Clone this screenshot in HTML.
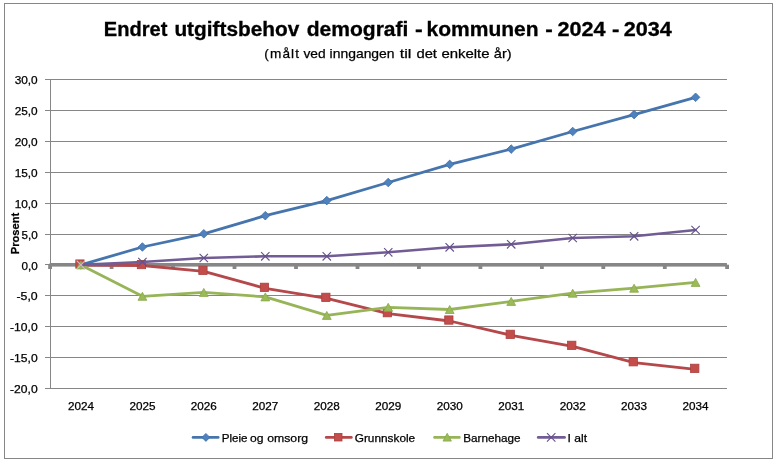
<!DOCTYPE html>
<html lang="no"><head><meta charset="utf-8"><title>Endret utgiftsbehov demografi</title>
<style>html,body{margin:0;padding:0;background:#fff;overflow:hidden}svg{display:block}text{font-family:"Liberation Sans",sans-serif;fill:#000;stroke:#000;stroke-width:0.25px}</style>
</head><body>
<svg width="779" height="463" viewBox="0 0 779 463">
<rect x="0" y="0" width="779" height="463" fill="#fff"/>
<rect x="4.5" y="3.5" width="768" height="455" fill="#fff" stroke="#868686" stroke-width="1"/>
<g fill="#868686" shape-rendering="crispEdges">
<rect x="45" y="79" width="682" height="1"/>
<rect x="45" y="110" width="682" height="1"/>
<rect x="45" y="141" width="682" height="1"/>
<rect x="45" y="172" width="682" height="1"/>
<rect x="45" y="203" width="682" height="1"/>
<rect x="45" y="234" width="682" height="1"/>
<rect x="45" y="295" width="682" height="1"/>
<rect x="45" y="326" width="682" height="1"/>
<rect x="45" y="357" width="682" height="1"/>
<rect x="45" y="388" width="682" height="1"/>
<rect x="50" y="79" width="1" height="310"/>
<rect x="45" y="264" width="6" height="1"/>
</g>
<g fill="#868686">
<rect x="49.6" y="263" width="677.3" height="3.6"/>
<rect x="48.2" y="264.7" width="3.8" height="4.3"/>
<rect x="109.7" y="264.7" width="3.8" height="4.3"/>
<rect x="171.1" y="264.7" width="3.8" height="4.3"/>
<rect x="232.6" y="264.7" width="3.8" height="4.3"/>
<rect x="294.1" y="264.7" width="3.8" height="4.3"/>
<rect x="355.6" y="264.7" width="3.8" height="4.3"/>
<rect x="417.0" y="264.7" width="3.8" height="4.3"/>
<rect x="478.5" y="264.7" width="3.8" height="4.3"/>
<rect x="540.0" y="264.7" width="3.8" height="4.3"/>
<rect x="601.4" y="264.7" width="3.8" height="4.3"/>
<rect x="662.9" y="264.7" width="3.8" height="4.3"/>
<rect x="725.2" y="264.7" width="3.8" height="4.3"/>
</g>
<polyline points="80.9,264.9 142.4,247.0 203.8,233.8 265.3,215.7 326.8,200.6 388.2,182.5 449.7,164.4 511.2,149.1 572.7,131.5 634.1,114.6 695.6,97.3" fill="none" stroke="#4675AE" stroke-width="2.8" stroke-linejoin="round" stroke-linecap="round"/>
<path d="M80.9 260.6L85.2 264.9L80.9 269.2L76.6 264.9Z" fill="#4F81BD" stroke="#3f6ea8" stroke-width="0.8"/>
<path d="M142.4 242.7L146.7 247.0L142.4 251.3L138.1 247.0Z" fill="#4F81BD" stroke="#3f6ea8" stroke-width="0.8"/>
<path d="M203.8 229.5L208.1 233.8L203.8 238.1L199.5 233.8Z" fill="#4F81BD" stroke="#3f6ea8" stroke-width="0.8"/>
<path d="M265.3 211.4L269.6 215.7L265.3 220.0L261.0 215.7Z" fill="#4F81BD" stroke="#3f6ea8" stroke-width="0.8"/>
<path d="M326.8 196.3L331.1 200.6L326.8 204.9L322.5 200.6Z" fill="#4F81BD" stroke="#3f6ea8" stroke-width="0.8"/>
<path d="M388.2 178.2L392.6 182.5L388.2 186.8L383.9 182.5Z" fill="#4F81BD" stroke="#3f6ea8" stroke-width="0.8"/>
<path d="M449.7 160.1L454.0 164.4L449.7 168.7L445.4 164.4Z" fill="#4F81BD" stroke="#3f6ea8" stroke-width="0.8"/>
<path d="M511.2 144.8L515.5 149.1L511.2 153.4L506.9 149.1Z" fill="#4F81BD" stroke="#3f6ea8" stroke-width="0.8"/>
<path d="M572.7 127.2L577.0 131.5L572.7 135.8L568.4 131.5Z" fill="#4F81BD" stroke="#3f6ea8" stroke-width="0.8"/>
<path d="M634.1 110.3L638.4 114.6L634.1 118.9L629.8 114.6Z" fill="#4F81BD" stroke="#3f6ea8" stroke-width="0.8"/>
<path d="M695.6 93.0L699.9 97.3L695.6 101.6L691.3 97.3Z" fill="#4F81BD" stroke="#3f6ea8" stroke-width="0.8"/>
<polyline points="80.9,265.0 142.4,265.5 203.8,271.3 265.3,288.4 326.8,298.3 388.2,313.6 449.7,321.0 511.2,335.3 572.7,346.4 634.1,362.7 695.6,369.4" fill="none" stroke="#B5484B" stroke-width="2.8" stroke-linejoin="round" stroke-linecap="round"/>
<rect x="75.8" y="259.9" width="8.3" height="8.3" fill="#C34D4B" stroke="#ab403e" stroke-width="0.8"/>
<rect x="137.3" y="260.4" width="8.3" height="8.3" fill="#C34D4B" stroke="#ab403e" stroke-width="0.8"/>
<rect x="198.8" y="266.2" width="8.3" height="8.3" fill="#C34D4B" stroke="#ab403e" stroke-width="0.8"/>
<rect x="260.3" y="283.2" width="8.3" height="8.3" fill="#C34D4B" stroke="#ab403e" stroke-width="0.8"/>
<rect x="321.7" y="293.2" width="8.3" height="8.3" fill="#C34D4B" stroke="#ab403e" stroke-width="0.8"/>
<rect x="383.2" y="308.5" width="8.3" height="8.3" fill="#C34D4B" stroke="#ab403e" stroke-width="0.8"/>
<rect x="444.7" y="315.9" width="8.3" height="8.3" fill="#C34D4B" stroke="#ab403e" stroke-width="0.8"/>
<rect x="506.1" y="330.2" width="8.3" height="8.3" fill="#C34D4B" stroke="#ab403e" stroke-width="0.8"/>
<rect x="567.6" y="341.2" width="8.3" height="8.3" fill="#C34D4B" stroke="#ab403e" stroke-width="0.8"/>
<rect x="629.1" y="357.6" width="8.3" height="8.3" fill="#C34D4B" stroke="#ab403e" stroke-width="0.8"/>
<rect x="690.6" y="364.2" width="8.3" height="8.3" fill="#C34D4B" stroke="#ab403e" stroke-width="0.8"/>
<polyline points="80.9,264.9 142.4,296.3 203.8,292.4 265.3,296.9 326.8,315.4 388.2,307.3 449.7,309.5 511.2,301.4 572.7,293.2 634.1,288.2 695.6,282.4" fill="none" stroke="#97B558" stroke-width="2.8" stroke-linejoin="round" stroke-linecap="round"/>
<path d="M80.9 260.9L85.3 268.9L76.5 268.9Z" fill="#9BBB59" stroke="#88a84a" stroke-width="0.8"/>
<path d="M142.4 292.3L146.8 300.3L138.0 300.3Z" fill="#9BBB59" stroke="#88a84a" stroke-width="0.8"/>
<path d="M203.8 288.4L208.2 296.4L199.4 296.4Z" fill="#9BBB59" stroke="#88a84a" stroke-width="0.8"/>
<path d="M265.3 292.9L269.7 300.9L260.9 300.9Z" fill="#9BBB59" stroke="#88a84a" stroke-width="0.8"/>
<path d="M326.8 311.4L331.2 319.4L322.4 319.4Z" fill="#9BBB59" stroke="#88a84a" stroke-width="0.8"/>
<path d="M388.2 303.3L392.6 311.3L383.9 311.3Z" fill="#9BBB59" stroke="#88a84a" stroke-width="0.8"/>
<path d="M449.7 305.5L454.1 313.5L445.3 313.5Z" fill="#9BBB59" stroke="#88a84a" stroke-width="0.8"/>
<path d="M511.2 297.4L515.6 305.4L506.8 305.4Z" fill="#9BBB59" stroke="#88a84a" stroke-width="0.8"/>
<path d="M572.7 289.2L577.1 297.2L568.3 297.2Z" fill="#9BBB59" stroke="#88a84a" stroke-width="0.8"/>
<path d="M634.1 284.2L638.5 292.2L629.7 292.2Z" fill="#9BBB59" stroke="#88a84a" stroke-width="0.8"/>
<path d="M695.6 278.4L700.0 286.4L691.2 286.4Z" fill="#9BBB59" stroke="#88a84a" stroke-width="0.8"/>
<polyline points="80.9,264.9 142.4,262.0 203.8,258.0 265.3,256.3 326.8,256.3 388.2,252.3 449.7,247.3 511.2,244.3 572.7,238.0 634.1,236.3 695.6,230.0" fill="none" stroke="#725C95" stroke-width="2.6" stroke-linejoin="round" stroke-linecap="round"/>
<path d="M76.7 260.7L85.1 269.1M76.7 269.1L85.1 260.7" fill="none" stroke="#d8b9c4" stroke-width="1.1"/>
<path d="M138.2 257.8L146.6 266.2M138.2 266.2L146.6 257.8" fill="none" stroke="#65508a" stroke-width="1.1"/>
<path d="M199.6 253.8L208.0 262.2M199.6 262.2L208.0 253.8" fill="none" stroke="#65508a" stroke-width="1.1"/>
<path d="M261.1 252.1L269.5 260.5M261.1 260.5L269.5 252.1" fill="none" stroke="#65508a" stroke-width="1.1"/>
<path d="M322.6 252.1L331.0 260.5M322.6 260.5L331.0 252.1" fill="none" stroke="#65508a" stroke-width="1.1"/>
<path d="M384.1 248.1L392.4 256.5M384.1 256.5L392.4 248.1" fill="none" stroke="#65508a" stroke-width="1.1"/>
<path d="M445.5 243.1L453.9 251.5M445.5 251.5L453.9 243.1" fill="none" stroke="#65508a" stroke-width="1.1"/>
<path d="M507.0 240.1L515.4 248.5M507.0 248.5L515.4 240.1" fill="none" stroke="#65508a" stroke-width="1.1"/>
<path d="M568.5 233.8L576.9 242.2M568.5 242.2L576.9 233.8" fill="none" stroke="#65508a" stroke-width="1.1"/>
<path d="M629.9 232.1L638.3 240.5M629.9 240.5L638.3 232.1" fill="none" stroke="#65508a" stroke-width="1.1"/>
<path d="M691.4 225.8L699.8 234.2M691.4 234.2L699.8 225.8" fill="none" stroke="#65508a" stroke-width="1.1"/>
<text y="35.75" font-size="19.5" font-weight="bold" style="stroke-width:0.3px"><tspan x="103.80" textLength="63.60" lengthAdjust="spacingAndGlyphs">Endret</tspan> <tspan x="174.40" textLength="124.90" lengthAdjust="spacingAndGlyphs">utgiftsbehov</tspan> <tspan x="306.70" textLength="101.70" lengthAdjust="spacingAndGlyphs">demografi</tspan> <tspan x="415.10" textLength="7.70" lengthAdjust="spacingAndGlyphs">-</tspan> <tspan x="426.60" textLength="112.00" lengthAdjust="spacingAndGlyphs">kommunen</tspan> <tspan x="545.20" textLength="7.50" lengthAdjust="spacingAndGlyphs">-</tspan> <tspan x="557.50" textLength="48.10" lengthAdjust="spacingAndGlyphs">2024</tspan> <tspan x="612.00" textLength="7.40" lengthAdjust="spacingAndGlyphs">-</tspan> <tspan x="623.70" textLength="48.10" lengthAdjust="spacingAndGlyphs">2034</tspan></text>
<text y="57.9" font-size="13.6"><tspan x="264.20" textLength="34.90" lengthAdjust="spacing">(målt</tspan> <tspan x="303.40" textLength="22.20" lengthAdjust="spacingAndGlyphs">ved</tspan> <tspan x="329.60" textLength="65.00" lengthAdjust="spacingAndGlyphs">inngangen</tspan> <tspan x="399.70" textLength="11.80" lengthAdjust="spacingAndGlyphs">til</tspan> <tspan x="416.40" textLength="20.60" lengthAdjust="spacingAndGlyphs">det</tspan> <tspan x="441.40" textLength="48.20" lengthAdjust="spacingAndGlyphs">enkelte</tspan> <tspan x="493.80" textLength="17.80" lengthAdjust="spacingAndGlyphs">år)</tspan></text>
<text x="14.7" y="84.05" font-size="10.7" textLength="23.0" lengthAdjust="spacingAndGlyphs">30,0</text>
<text x="14.7" y="115.05" font-size="10.7" textLength="23.0" lengthAdjust="spacingAndGlyphs">25,0</text>
<text x="14.7" y="146.05" font-size="10.7" textLength="23.0" lengthAdjust="spacingAndGlyphs">20,0</text>
<text x="14.7" y="177.05" font-size="10.7" textLength="23.0" lengthAdjust="spacingAndGlyphs">15,0</text>
<text x="14.7" y="208.05" font-size="10.7" textLength="23.0" lengthAdjust="spacingAndGlyphs">10,0</text>
<text x="21.5" y="239.05" font-size="10.7" textLength="16.2" lengthAdjust="spacingAndGlyphs">5,0</text>
<text x="21.5" y="270.05" font-size="10.7" textLength="16.2" lengthAdjust="spacingAndGlyphs">0,0</text>
<text x="16.5" y="300.05" font-size="10.7" textLength="21.2" lengthAdjust="spacingAndGlyphs">-5,0</text>
<text x="10.1" y="331.05" font-size="10.7" textLength="27.6" lengthAdjust="spacingAndGlyphs">-10,0</text>
<text x="10.1" y="362.05" font-size="10.7" textLength="27.6" lengthAdjust="spacingAndGlyphs">-15,0</text>
<text x="10.1" y="393.05" font-size="10.7" textLength="27.6" lengthAdjust="spacingAndGlyphs">-20,0</text>
<text x="80.9" y="409.8" font-size="10.7" text-anchor="middle" textLength="26" lengthAdjust="spacingAndGlyphs">2024</text>
<text x="142.4" y="409.8" font-size="10.7" text-anchor="middle" textLength="26" lengthAdjust="spacingAndGlyphs">2025</text>
<text x="203.8" y="409.8" font-size="10.7" text-anchor="middle" textLength="26" lengthAdjust="spacingAndGlyphs">2026</text>
<text x="265.3" y="409.8" font-size="10.7" text-anchor="middle" textLength="26" lengthAdjust="spacingAndGlyphs">2027</text>
<text x="326.8" y="409.8" font-size="10.7" text-anchor="middle" textLength="26" lengthAdjust="spacingAndGlyphs">2028</text>
<text x="388.2" y="409.8" font-size="10.7" text-anchor="middle" textLength="26" lengthAdjust="spacingAndGlyphs">2029</text>
<text x="449.7" y="409.8" font-size="10.7" text-anchor="middle" textLength="26" lengthAdjust="spacingAndGlyphs">2030</text>
<text x="511.2" y="409.8" font-size="10.7" text-anchor="middle" textLength="26" lengthAdjust="spacingAndGlyphs">2031</text>
<text x="572.7" y="409.8" font-size="10.7" text-anchor="middle" textLength="26" lengthAdjust="spacingAndGlyphs">2032</text>
<text x="634.1" y="409.8" font-size="10.7" text-anchor="middle" textLength="26" lengthAdjust="spacingAndGlyphs">2033</text>
<text x="695.6" y="409.8" font-size="10.7" text-anchor="middle" textLength="26" lengthAdjust="spacingAndGlyphs">2034</text>
<text transform="translate(19.4 254.2) rotate(-90)" font-size="11.5" font-weight="bold" textLength="41.4" lengthAdjust="spacingAndGlyphs">Prosent</text>
<line x1="193" y1="437.4" x2="218.2" y2="437.4" stroke="#4675AE" stroke-width="2.6" stroke-linecap="round"/>
<path d="M205.9 433.4L209.9 437.4L205.9 441.4L201.9 437.4Z" fill="#4F81BD" stroke="#3f6ea8" stroke-width="0.8"/>
<text y="442" font-size="11.5"><tspan x="221.70" textLength="25.80" lengthAdjust="spacingAndGlyphs">Pleie</tspan> <tspan x="250.00" textLength="13.50" lengthAdjust="spacingAndGlyphs">og</tspan> <tspan x="267.20" textLength="40.90" lengthAdjust="spacingAndGlyphs">omsorg</tspan></text>
<line x1="326.2" y1="437.4" x2="351.4" y2="437.4" stroke="#B5484B" stroke-width="2.6" stroke-linecap="round"/>
<rect x="334.4" y="433.4" width="7.6" height="7.6" fill="#C34D4B" stroke="#ab403e" stroke-width="0.8"/>
<text x="354.7" y="442" font-size="11.5" textLength="60.5" lengthAdjust="spacingAndGlyphs">Grunnskole</text>
<line x1="434.5" y1="437.4" x2="459.4" y2="437.4" stroke="#97B558" stroke-width="2.6" stroke-linecap="round"/>
<path d="M447.2 433.3L451.4 441.1L443.0 441.1Z" fill="#9BBB59" stroke="#88a84a" stroke-width="0.8"/>
<text x="463.2" y="442" font-size="11.5" textLength="57.3" lengthAdjust="spacingAndGlyphs">Barnehage</text>
<line x1="538.2" y1="437.4" x2="564.6" y2="437.4" stroke="#725C95" stroke-width="2.6" stroke-linecap="round"/>
<path d="M547.0 433.2L555.4 441.6M547.0 441.6L555.4 433.2" fill="none" stroke="#65508a" stroke-width="1.1"/>
<text x="567.6" y="442" font-size="11.5" textLength="19.5" lengthAdjust="spacingAndGlyphs">I alt</text>
</svg></body></html>
